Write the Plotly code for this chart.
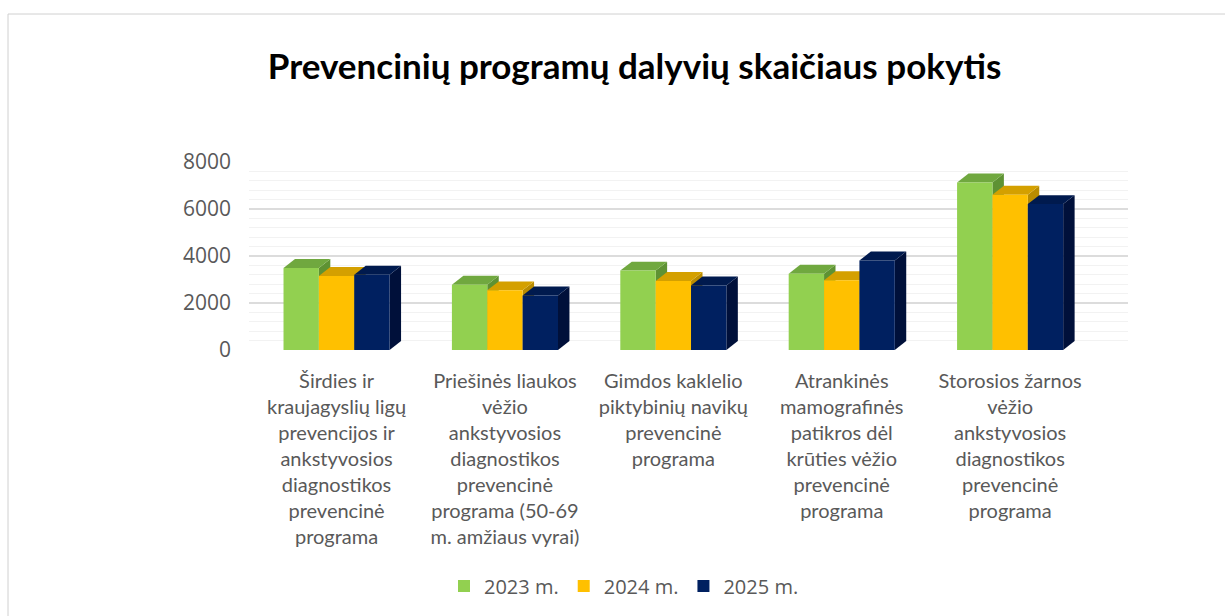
import plotly.graph_objects as go

categories = [
    "Širdies ir<br>kraujagyslių ligų<br>prevencijos ir<br>ankstyvosios<br>diagnostikos<br>prevencinė<br>programa",
    "Priešinės liaukos<br>vėžio<br>ankstyvosios<br>diagnostikos<br>prevencinė<br>programa (50-69<br>m. amžiaus vyrai)",
    "Gimdos kaklelio<br>piktybinių navikų<br>prevencinė<br>programa",
    "Atrankinės<br>mamografinės<br>patikros dėl<br>krūties vėžio<br>prevencinė<br>programa",
    "Storosios žarnos<br>vėžio<br>ankstyvosios<br>diagnostikos<br>prevencinė<br>programa",
]
series_names = ["2023 m.", "2024 m.", "2025 m."]
values_2023 = [3490, 2780, 3380, 3250, 7130]
values_2024 = [3150, 2540, 2940, 2970, 6610]
values_2025 = [3200, 2320, 2750, 3810, 6210]
series_values = [values_2023, values_2024, values_2025]
front_colors = ["#92D050", "#FFC000", "#002060"]
top_colors = ["#70A83F", "#D4A000", "#001A4E"]
side_colors = ["#5E9233", "#B98C00", "#00103A"]
y_ticks = [0, 2000, 4000, 6000, 8000]

bargap = 0.37
n_series = len(series_values)
bar_w = (1 - bargap) / n_series
dx = 0.068   # depth in x category units
dy = 380     # depth in y value units

L, R, T, B = 249, 97, 162, 266
plot_w = 1225 - L - R
plot_h = 616 - T - B

fig = go.Figure()
for name, vals, col in zip(series_names, series_values, front_colors):
    fig.add_trace(go.Bar(name=name, x=list(range(len(categories))), y=vals,
                         marker=dict(color=col, line=dict(width=0))))

shapes = []
for j, vals in enumerate(series_values):
    off = (j - (n_series - 1) / 2) * bar_w
    for i, v in enumerate(vals):
        x0 = i + off - bar_w / 2
        x1 = i + off + bar_w / 2
        side = f"M {x1},0 L {x1+dx},{dy} L {x1+dx},{v+dy} L {x1},{v} Z"
        top = f"M {x0},{v} L {x0+dx},{v+dy} L {x1+dx},{v+dy} L {x1},{v} Z"
        shapes.append(dict(type="path", path=side, xref="x", yref="y",
                           fillcolor=side_colors[j], line=dict(width=0), layer="between"))
        shapes.append(dict(type="path", path=top, xref="x", yref="y",
                           fillcolor=top_colors[j], line=dict(width=0), layer="between"))

# chart frame
shapes.append(dict(type="rect", xref="paper", yref="paper",
                   x0=-(L - 8) / plot_w, x1=(1225 - L + 20) / plot_w,
                   y0=-(616 - T - plot_h + 40) / plot_h, y1=(T + plot_h - 14) / plot_h,
                   line=dict(color="#D0D0D0", width=1), fillcolor="rgba(0,0,0,0)", layer="below"))

fig.update_layout(
    width=1225, height=616,
    paper_bgcolor="white", plot_bgcolor="white",
    margin=dict(l=L, r=R, t=T, b=B),
    barmode="group", bargap=bargap, bargroupgap=0,
    title=dict(text="<b>Prevencinių programų dalyvių skaičiaus pokytis</b>",
               x=0.518, xanchor="center", y=1 - 67 / 616, yanchor="middle",
               font=dict(family="Lato", size=35, color="#000000")),
    legend=dict(orientation="h", x=(624 - L) / plot_w, xanchor="center",
                y=1 - 586 / 616, yanchor="middle", yref="container",
                font=dict(family="Open Sans", size=20, color="#595959"),
                itemwidth=30, traceorder="normal"),
    shapes=shapes,
    showlegend=True,
)
fig.update_xaxes(
    tickmode="array", tickvals=list(range(len(categories))), ticktext=categories,
    range=[-0.52, 4.70], showgrid=False, zeroline=False, showline=False, ticks="",
    tickfont=dict(family="Lato", size=20, color="#595959"), tickangle=0,
    ticklabelstandoff=17, automargin=False,
)
fig.update_yaxes(
    range=[0, 8000], tickvals=y_ticks, showgrid=True, gridcolor="#DCDCDC", gridwidth=1.5,
    zeroline=False, showline=False, ticks="",
    tickfont=dict(family="Open Sans", size=21, color="#595959"),
    ticklabelstandoff=17, automargin=False,
    minor=dict(dtick=400, showgrid=True, gridcolor="#F2F2F2", gridwidth=1),
)

fig.write_html("out.html", config={"displayModeBar": False},
               post_script="document.body.style.margin='0px';")
